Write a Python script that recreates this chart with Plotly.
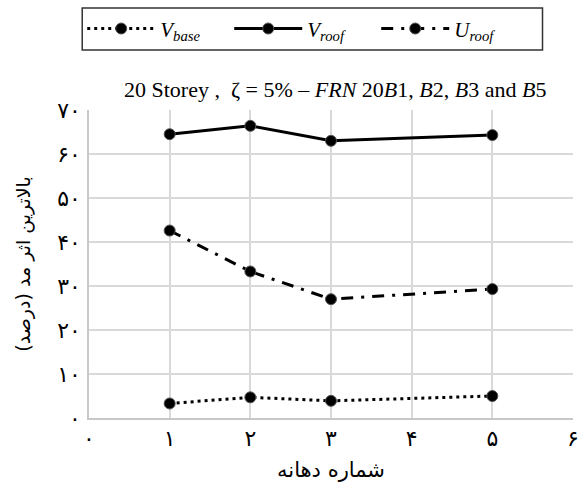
import plotly.graph_objects as go

x_vals = [1, 2, 3, 5]
v_base = [3.3, 4.7, 3.9, 5.0]
v_roof = [64.5, 66.4, 63.0, 64.3]
u_roof = [42.6, 33.3, 27.0, 29.3]

series_names = ["<i>V</i><sub><i>base</i></sub>", "<i>V</i><sub><i>roof</i></sub>", "<i>U</i><sub><i>roof</i></sub>"]
dashes = ["3px,4px", "solid", "12px,8px,3px,8px"]

x_ticks = [0, 1, 2, 3, 4, 5, 6]
x_tick_text = ["۰", "۱", "۲", "۳", "۴", "۵", "۶"]
y_ticks = [0, 10, 20, 30, 40, 50, 60, 70]
y_tick_text = ["۰", "۱۰", "۲۰", "۳۰", "۴۰", "۵۰", "۶۰", "۷۰"]

title_text = "20 Storey ,  ζ = 5% – <i>FRN</i> 20<i>B</i>1, <i>B</i>2, <i>B</i>3 and <i>B</i>5"
x_title = "شماره دهانه"
y_title = "بالاترین اثر مد (درصد)"

fig = go.Figure()
for name, ys, dash in zip(series_names, [v_base, v_roof, u_roof], dashes):
    fig.add_trace(go.Scatter(
        x=x_vals, y=ys, name=name, mode="lines+markers",
        line=dict(color="black", width=3, dash=dash),
        marker=dict(color="black", size=11, line=dict(color="#555555", width=1)),
    ))

# legend frame (drawn as a shape so its width matches the reference)
fig.add_shape(type="rect", xref="paper", yref="paper",
              x0=-0.014, x1=0.937, y0=1.195, y1=1.331,
              line=dict(color="#333333", width=1.5), fillcolor="rgba(0,0,0,0)")

fig.update_layout(
    width=585, height=497,
    margin=dict(l=89, r=6, t=110, b=79),
    paper_bgcolor="white", plot_bgcolor="white",
    title=dict(text=title_text, x=0.573, xanchor="center", y=0.82, yanchor="middle",
               font=dict(family="Liberation Serif", size=22, color="black")),
    legend=dict(orientation="h", x=-0.014, xanchor="left", y=1.33, yanchor="top",
                borderwidth=0, bgcolor="rgba(0,0,0,0)",
                font=dict(family="Liberation Serif", size=21, color="black"),
                entrywidth=64, entrywidthmode="pixels", itemwidth=68,
                tracegroupgap=0),
    xaxis=dict(range=[0, 6], tickvals=x_ticks, ticktext=x_tick_text,
               showgrid=True, gridcolor="#d9d9d9", gridwidth=1.5,
               showline=True, linecolor="#c8c8c8", linewidth=1.5,
               zeroline=False, ticks="", ticklabelstandoff=0,
               ticklabeloverflow="allow",
               tickfont=dict(family="DejaVu Sans", size=22, color="black"),
               title=dict(text=x_title, standoff=12,
                          font=dict(family="DejaVu Sans", size=21, color="black"))),
    yaxis=dict(range=[0, 70], tickvals=y_ticks, ticktext=y_tick_text,
               showgrid=True, gridcolor="#d9d9d9", gridwidth=1.5,
               showline=True, linecolor="#c8c8c8", linewidth=1.5,
               zeroline=False, ticks="", ticklabelstandoff=2,
               ticklabeloverflow="allow",
               tickfont=dict(family="DejaVu Sans", size=22, color="black"),
               title=dict(text=y_title, standoff=22,
                          font=dict(family="DejaVu Sans", size=19, color="black"))),
)

fig.write_html("out.html")
